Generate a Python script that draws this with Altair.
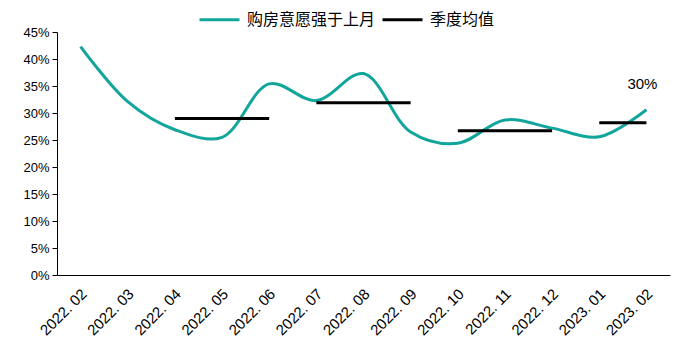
import altair as alt
import pandas as pd

months = ["2022. 02", "2022. 03", "2022. 04", "2022. 05", "2022. 06", "2022. 07",
          "2022. 08", "2022. 09", "2022. 10", "2022. 11", "2022. 12", "2023. 01", "2023. 02"]
willing = [0.423, 0.321, 0.269, 0.255, 0.354, 0.323, 0.373, 0.265, 0.244, 0.287, 0.272, 0.256, 0.306]

q_names = ["Q2", "Q3", "Q4", "Q1"]
q_start = ["2022. 04", "2022. 07", "2022. 10", "2023. 01"]
q_end = ["2022. 06", "2022. 09", "2022. 12", "2023. 02"]
q_mean = [0.290, 0.319, 0.267, 0.282]

y_ticks = [0.0, 0.05, 0.1, 0.15, 0.2, 0.25, 0.3, 0.35, 0.4, 0.45]

s1 = "购房意愿强于上月"
s2 = "季度均值"
teal = "#12A59C"

df_line = pd.DataFrame({"month": months, "value": willing, "series": s1})
rows = []
for q, a, b, m in zip(q_names, q_start, q_end, q_mean):
    rows.append({"month": a, "value": m, "series": s2, "q": q})
    rows.append({"month": b, "value": m, "series": s2, "q": q})
df_q = pd.DataFrame(rows)
df_lab = pd.DataFrame({"month": [months[-1]], "value": [willing[-1]], "txt": ["30%"]})

xenc = alt.X("month:N", sort=months, scale=alt.Scale(domain=months, paddingInner=0, paddingOuter=0),
             axis=alt.Axis(title=None, labelAngle=-45, labelAlign="right", labelBaseline="middle",
                           labelFont="Liberation Sans", labelFontSize=15, labelColor="#000",
                           labelPadding=16, labelOffset=3, ticks=False, domainColor="#000",
                           domainWidth=1, labelOverlap=False))
yenc = alt.Y("value:Q", scale=alt.Scale(domain=[0, 0.45], nice=False),
             axis=alt.Axis(title=None, format=".0%", values=y_ticks, labelOverlap=False,
                           tickCount=10,
                           labelFont="Liberation Sans", labelFontSize=13, labelColor="#000",
                           tickColor="#000", tickSize=5, domainColor="#000", grid=False,
                           labelPadding=3))
color = alt.Color("series:N", scale=alt.Scale(domain=[s1, s2], range=[teal, "#000000"]),
                  legend=alt.Legend(title=None, orient="none", direction="horizontal",
                                    legendX=141, legendY=-34, symbolType="stroke",
                                    symbolStrokeWidth=3, symbolSize=1600,
                                    labelFont="Noto Sans CJK SC", labelFontSize=16,
                                    labelColor="#000", columnPadding=0, labelOffset=6))

line = alt.Chart(df_line).mark_line(interpolate="catmull-rom", strokeWidth=3).encode(
    x=xenc, y=yenc, color=color)
qline = alt.Chart(df_q).mark_line(strokeWidth=3).encode(
    x=xenc, y=yenc, color=color, detail="q:N")
lab = alt.Chart(df_lab).mark_text(font="Liberation Sans", fontSize=15, color="#000", dy=-26, dx=-4).encode(
    x=xenc, y=yenc, text="txt:N")

chart = alt.layer(line, qline, lab).properties(
    width=613, height=243,
    autosize=alt.AutoSizeParams(type="none"),
    padding={"left": 57, "top": 32, "right": 14, "bottom": 78},
    background="white",
).configure_view(stroke=None)

chart.save("out.html", embed_options={"renderer": "svg", "actions": False})
